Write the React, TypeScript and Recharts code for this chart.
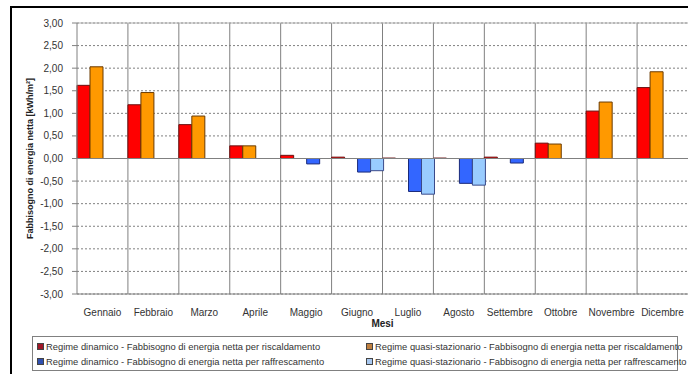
import React from 'react';
import { BarChart, Bar, XAxis, YAxis, CartesianGrid, ReferenceLine } from 'recharts';

const months = ['Gennaio', 'Febbraio', 'Marzo', 'Aprile', 'Maggio', 'Giugno', 'Luglio', 'Agosto', 'Settembre', 'Ottobre', 'Novembre', 'Dicembre'];
const heatDynamic = [1.62, 1.19, 0.75, 0.28, 0.07, 0.03, 0.01, 0.01, 0.03, 0.34, 1.05, 1.57];
const heatQuasi = [2.03, 1.46, 0.94, 0.28, 0, 0, 0, 0, 0, 0.32, 1.25, 1.92];
const coolDynamic = [0, 0, 0, 0, -0.12, -0.3, -0.73, -0.55, -0.1, 0, 0, 0];
const coolQuasi = [0, 0, 0, 0, 0, -0.27, -0.79, -0.59, 0, 0, 0, 0];
const yTicks = [-3, -2.5, -2, -1.5, -1, -0.5, 0, 0.5, 1, 1.5, 2, 2.5, 3];

const seriesNames = [
  'Regime dinamico - Fabbisogno di energia netta per riscaldamento',
  'Regime quasi-stazionario - Fabbisogno di energia netta per riscaldamento',
  'Regime dinamico - Fabbisogno di energia netta per raffrescamento',
  'Regime quasi-stazionario - Fabbisogno di energia netta per raffrescamento',
];
const seriesKeys = ['hd', 'hq', 'cd', 'cq'];
const seriesColors = ['#FF0000', '#FF9900', '#3366FF', '#99CCFF'];
const seriesStrokes = ['#6a1010', '#6a3a00', '#1a2a7a', '#3a4a8a'];
const legendMarkers = ['#A01828', '#C08040', '#3050B0', '#A8C8F0'];

const data = months.map((m, i) => ({
  month: m,
  hd: heatDynamic[i],
  hq: heatQuasi[i],
  cd: coolDynamic[i],
  cq: coolQuasi[i],
}));

const FONT = '"Liberation Sans", Arial, sans-serif';
const fmt = (v: number) => v.toFixed(2).replace('.', ',');

const legendOrder = [0, 1, 2, 3];

export default function App() {
  return (
    <div style={{ position: 'absolute', left: 0, top: 0, width: 688, height: 374, overflow: 'hidden', background: '#fff', fontFamily: FONT }}>
      <div style={{ position: 'absolute', left: 10, top: 6, width: 720, height: 420, borderTop: '2px solid #000', borderLeft: '2px solid #000', boxSizing: 'border-box' }} />
      <div style={{ position: 'absolute', left: 0, top: 0 }}>
        <BarChart
          width={688}
          height={374}
          data={data}
          margin={{ top: 23, right: 0, left: 0, bottom: 0 }}
          barCategoryGap={0}
          barGap={0}
        >
          <CartesianGrid vertical={false} stroke="#808080" strokeDasharray="2 2" />
          <CartesianGrid
            horizontal={false}
            stroke="#808080"
            verticalCoordinatesGenerator={(props: any) => {
              const off = props.offset;
              const out: number[] = [];
              for (let i = 1; i < months.length; i++) out.push(off.left + (i * off.width) / months.length);
              return out;
            }}
          />
          <ReferenceLine y={3} stroke="#b0b0b0" />
          <XAxis
            dataKey="month"
            height={80}
            tickLine={false}
            axisLine={{ stroke: '#808080' }}
            tickMargin={9}
            tick={{ fontSize: 10, fill: '#333', fontFamily: FONT }}
            interval={0}
            label={(p: any) => {
              const vb = p.viewBox;
              return (
                <text x={vb.x + vb.width / 2} y={vb.y + 33} textAnchor="middle" fontSize={10} fontWeight="bold" fill="#222" fontFamily={FONT}>
                  Mesi
                </text>
              );
            }}
          />
          <YAxis
            width={77}
            domain={[-3, 3]}
            ticks={yTicks}
            interval={0}
            tickFormatter={fmt}
            tickSize={5}
            tickMargin={9}
            axisLine={{ stroke: '#808080' }}
            tickLine={{ stroke: '#808080' }}
            tick={{ fontSize: 10, fill: '#333', fontFamily: FONT }}
            label={(p: any) => {
              const vb = p.viewBox;
              const cx = vb.x + 33;
              const cy = vb.y + vb.height / 2;
              return (
                <text x={cx} y={cy} transform={`rotate(-90 ${cx} ${cy})`} textAnchor="middle" fontSize={9} fontWeight="bold" fill="#222" fontFamily={FONT}>
                  Fabbisogno di energia netta [kWh/m²]
                </text>
              );
            }}
          />
          {seriesKeys.map((k, i) => (
            <Bar key={k} dataKey={k} name={seriesNames[i]} fill={seriesColors[i]} stroke={seriesStrokes[i]} strokeWidth={1} isAnimationActive={false} />
          ))}
          <ReferenceLine y={0} stroke="#808080" />
        </BarChart>
      </div>
      <div
        style={{
          position: 'absolute',
          left: 32,
          top: 336,
          width: 646,
          height: 35,
          border: '1px solid #808080',
          boxSizing: 'border-box',
          display: 'grid',
          gridTemplateColumns: '329px 310px',
          gridTemplateRows: '15px 15px',
          paddingTop: 2,
          paddingLeft: 4,
          fontSize: 9.4,
          color: '#333',
        }}
      >
        {legendOrder.map((i) => (
          <div key={i} style={{ display: 'flex', alignItems: 'center', whiteSpace: 'nowrap', lineHeight: '15px' }}>
            <span style={{ display: 'inline-block', flexShrink: 0, width: 5, height: 5, background: legendMarkers[i], border: '1px solid #444', marginRight: 2 }} />
            <span>{seriesNames[i]}</span>
          </div>
        ))}
      </div>
    </div>
  );
}
